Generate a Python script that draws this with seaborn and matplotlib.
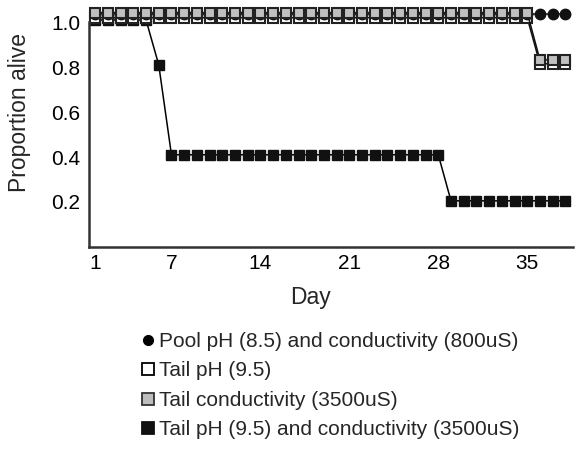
import numpy as np
import pandas as pd
import matplotlib
matplotlib.use("Agg")
import matplotlib.pyplot as plt
import seaborn as sns
from matplotlib.lines import Line2D

# データ（値は図から読み取り、重なり防止のため少しずらしてある）
days = list(range(1, 39))
pool_ph_cond = [1.035] * 38
tail_ph = [1.02] * 35 + [0.815] * 3
tail_cond = [1.043] * 35 + [0.832] * 3
tail_ph_cond = [1.01] * 5 + [0.81] + [0.41] * 22 + [0.205] * 10

labels = ["Pool pH (8.5) and conductivity (800uS)",
          "Tail pH (9.5)",
          "Tail conductivity (3500uS)",
          "Tail pH (9.5) and conductivity (3500uS)"]
x_ticks = [1, 7, 14, 21, 28, 35]
y_ticks = [0.2, 0.4, 0.6, 0.8, 1.0]

sns.set_style("white")
plt.rcParams['font.family'] = ['Liberation Sans', 'DejaVu Sans']

fig, ax = plt.subplots(figsize=(5.77, 4.53), dpi=100)
fig.subplots_adjust(left=0.154, right=0.993, top=0.951, bottom=0.455)

df = pd.DataFrame({"day": days, "pool": pool_ph_cond, "tph": tail_ph,
                   "tcond": tail_cond, "both": tail_ph_cond})

# 描画順: 黒 -> 白 -> 丸 -> 灰
sns.lineplot(data=df, x="day", y="both", ax=ax, color="black", lw=1.1,
             marker="s", ms=7.5, mfc="#111111", mec="#111111", mew=1.0, clip_on=False)
sns.lineplot(data=df, x="day", y="tph", ax=ax, color="#111111", lw=1.1,
             marker="s", ms=7, mfc="white", mec="#222222", mew=1.5, clip_on=False)
sns.lineplot(data=df, x="day", y="pool", ax=ax, color="#111111", lw=1.1,
             marker="o", ms=7.5, mfc="#111111", mec="#111111", mew=1.0, clip_on=False)
sns.lineplot(data=df, x="day", y="tcond", ax=ax, color="#111111", lw=1.1,
             marker="s", ms=7, mfc="#c0c0c0", mec="#222222", mew=1.5, clip_on=False)

ax.set_xlim(0.5, 38.6)
ax.set_ylim(0, 1.0)
ax.set_xticks(x_ticks)
ax.set_yticks(y_ticks)
ax.set_yticklabels([f"{v:.1f}" for v in y_ticks])
ax.tick_params(axis="both", labelsize=15, colors="#222222", direction="in", length=4, width=1.5)
ax.tick_params(axis="x", length=0, pad=5)
ax.tick_params(axis="y", pad=6)
for lab in ax.get_xticklabels() + ax.get_yticklabels():
    lab.set_color("black")

sns.despine(ax=ax)
for s in ["left", "bottom"]:
    ax.spines[s].set_linewidth(1.8)
    ax.spines[s].set_color("#333333")

ax.set_xlabel("Day", fontsize=16.5)
ax.set_ylabel("Proportion alive", fontsize=16.5)
ax.xaxis.set_label_coords(0.457, -0.175)
ax.yaxis.set_label_coords(-0.12, 0.6)

handles = [
    Line2D([], [], ls="", marker="o", ms=7, mfc="black", mec="black"),
    Line2D([], [], ls="", marker="s", ms=8, mfc="white", mec="black", mew=1.3),
    Line2D([], [], ls="", marker="s", ms=8, mfc="#bdbdbd", mec="#333333", mew=1.3),
    Line2D([], [], ls="", marker="s", ms=8, mfc="#111111", mec="#111111", mew=1.3),
]
fig.legend(handles, labels, loc="upper left", bbox_to_anchor=(142 / 577, 1 - 332 / 453),
           frameon=False, fontsize=15, handlelength=0.6, handletextpad=0.2,
           labelspacing=0.5, borderpad=0, borderaxespad=0)

fig.savefig("out.png", dpi=100)
